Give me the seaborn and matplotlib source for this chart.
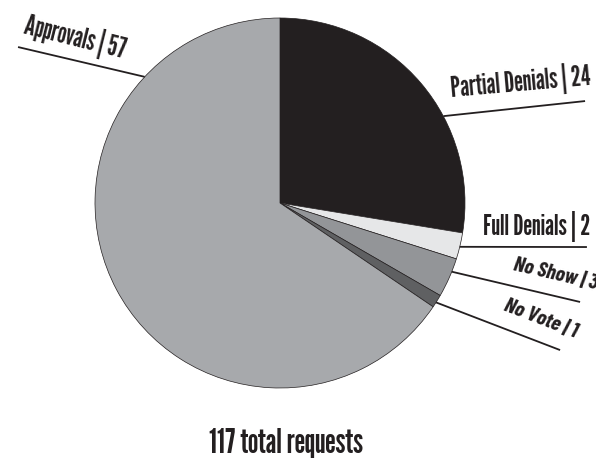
import numpy as np
import matplotlib
matplotlib.use("Agg")
import matplotlib.pyplot as plt
import seaborn as sns

# data
labels = ["Partial Denials", "Full Denials", "No Show", "No Vote", "Approvals"]
counts = [24, 2, 3, 1, 57]
total_text = "117 total requests"
colors = ["#231f20", "#e6e7e8", "#939598", "#5f6062", "#a7a9ac"]

sns.set_theme(style="white")
plt.rcParams["font.family"] = ["League Gothic", "DejaVu Sans"]
italic_family = ["Barlow Condensed", "DejaVu Sans"]
ink = "#231f20"

fig = plt.figure(figsize=(5.96, 4.58), dpi=100)
ax = fig.add_axes([0, 0, 1, 1])
ax.pie(counts, colors=colors, startangle=90, counterclock=False,
       wedgeprops=dict(edgecolor=ink, linewidth=0.5))
ax.set_xlim(-280 / 185, 316 / 185)
ax.set_ylim(-255 / 185, 203 / 185)
ax.set_aspect("auto")
ax.axis("off")

# leader lines: start angle on the rim, end point, text anchor, rotation, ha, italic
layout = {
    "Partial Denials": (28, (1.649, 0.551), (0.924, 0.573), 5, "left", False),
    "Full Denials": (-13.7, (1.659, -0.238), (1.676, -0.173), 0, "right", False),
    "No Show": (-21.8, (1.622, -0.535), (1.254, -0.362), -13, "left", True),
    "No Vote": (-32.5, (1.514, -0.795), (1.205, -0.578), -21, "left", True),
    "Approvals": (137, (-1.416, 0.843), (-1.389, 0.919), -14, "left", False),
}
for lab, n in zip(labels, counts):
    ang, end, pos, rot, ha, ital = layout[lab]
    a = np.deg2rad(ang)
    ax.plot([np.cos(a), end[0]], [np.sin(a), end[1]], color=ink, lw=1.3,
            solid_capstyle="butt")
    if ital:
        ax.text(pos[0], pos[1], f"{lab} | {n}", rotation=rot, rotation_mode="anchor",
                ha=ha, va="baseline", fontsize=15.5, fontweight="bold",
                style="italic", family=italic_family, color=ink)
    else:
        ax.text(pos[0], pos[1], f"{lab} | {n}", rotation=rot, rotation_mode="anchor",
                ha=ha, va="baseline", fontsize=20, color=ink)

ax.text(0.032, -1.351, total_text, ha="center", va="baseline", fontsize=24,
        color=ink)

fig.savefig("out.png", dpi=100)
